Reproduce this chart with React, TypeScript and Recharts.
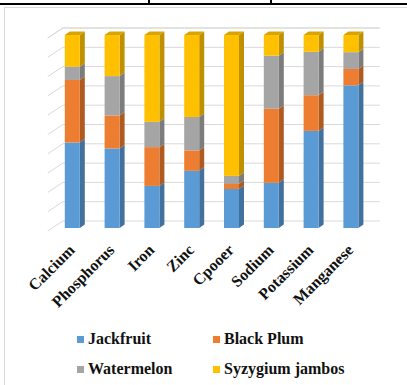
import React from "react";
import { BarChart, Bar, XAxis, YAxis, CartesianGrid } from "recharts";

const categories = ["Calcium", "Phosphorus", "Iron", "Zinc", "Cpooer", "Sodium", "Potassium", "Manganese"];
const jackfruit = [44.3, 41.2, 21.8, 29.6, 20.2, 23.4, 50.3, 73.9];
const blackPlum = [32.4, 17.1, 20.1, 10.6, 2.6, 38.4, 18.5, 8.5];
const watermelon = [6.9, 20.4, 13.1, 17.3, 4.2, 27.5, 22.5, 8.7];
const syzygium = [16.4, 21.3, 45.0, 42.5, 73.0, 10.7, 8.7, 8.9];
const yTicks = [0, 10, 20, 30, 40, 50, 60, 70, 80, 90, 100];

const seriesDefs = [
  { key: "Jackfruit", values: jackfruit, color: "#5B9BD5", side: "#41719C", top: "#4F88BB" },
  { key: "Black Plum", values: blackPlum, color: "#ED7D31", side: "#AE5A21", top: "#D06A28" },
  { key: "Watermelon", values: watermelon, color: "#A5A5A5", side: "#7C7C7C", top: "#929292" },
  { key: "Syzygium jambos", values: syzygium, color: "#FFC000", side: "#BF9000", top: "#D9A300" },
];

const data = categories.map((name, i) => {
  const row: Record<string, string | number> = { name };
  seriesDefs.forEach((s) => (row[s.key] = s.values[i]));
  return row;
});

const DX = 5;
const DY = 3.5;

const make3D = (color: string, side: string, top: string, isTop: boolean) => (props: any) => {
  const { x, y, width, height } = props;
  if (height == null || height <= 0) return <g />;
  return (
    <g>
      <polygon
        points={`${x + width},${y} ${x + width + DX},${y - DY} ${x + width + DX},${y + height - DY} ${x + width},${y + height}`}
        fill={side}
      />
      {isTop && (
        <polygon
          points={`${x},${y} ${x + DX},${y - DY} ${x + width + DX},${y - DY} ${x + width},${y}`}
          fill={top}
        />
      )}
      <rect x={x} y={y} width={width} height={height} fill={color} />
    </g>
  );
};

const gridLine = (p: any) => {
  const y = p.y1;
  const x0 = p.x1;
  return (
    <path
      key={`g-${y}`}
      d={`M${x0 - 5},${y + 3} L${x0 + 10},${y - 7} L${x0 + 327},${y - 7}`}
      stroke="#D9D9D9"
      strokeWidth={1}
      fill="none"
    />
  );
};

const FONT = "'Liberation Serif', 'Times New Roman', Times, serif";

const Tick = (props: any) => {
  const { x, y, payload } = props;
  return (
    <text
      transform={`translate(${x + 3},${y + 23}) rotate(-45)`}
      textAnchor="end"
      fontFamily={FONT}
      fontWeight="bold"
      fontSize={16}
      fill="#111111"
    >
      {payload.value}
    </text>
  );
};

const legendItems = [
  { ...seriesDefs[0], left: 77, top: 330 },
  { ...seriesDefs[1], left: 213, top: 330 },
  { ...seriesDefs[2], left: 77, top: 360 },
  { ...seriesDefs[3], left: 213, top: 360 },
];

export default function App() {
  return (
    <div
      style={{
        position: "absolute",
        left: 0,
        top: 0,
        width: 407,
        height: 385,
        overflow: "hidden",
        background: "#fff",
      }}
    >
      <div style={{ position: "absolute", left: 0, top: 3, width: 407, height: 2, background: "#000" }} />
      <div style={{ position: "absolute", left: 148, top: 0, width: 2, height: 4, background: "#000" }} />
      <div style={{ position: "absolute", left: 270, top: 0, width: 2, height: 4, background: "#000" }} />
      <div
        style={{
          position: "absolute",
          left: 4,
          top: 7,
          width: 600,
          height: 600,
          border: "1px solid #D9D9D9",
        }}
      />
      <div style={{ position: "absolute", left: 0, top: 0 }}>
        <BarChart
          width={407}
          height={385}
          data={data}
          margin={{ top: 35, left: 52.8, right: 35.8, bottom: 97 }}
          barCategoryGap={0}
        >
          <CartesianGrid vertical={false} horizontal={gridLine} />
          <YAxis hide domain={[0, 100]} ticks={yTicks} interval={0} />
          <XAxis
            dataKey="name"
            axisLine={false}
            tickLine={false}
            tickSize={0}
            tickMargin={0}
            height={60}
            interval={0}
            tick={<Tick />}
          />
          {seriesDefs.map((s, i) => (
            <Bar
              key={s.key}
              dataKey={s.key}
              stackId="a"
              barSize={15}
              fill={s.color}
              isAnimationActive={false}
              shape={make3D(s.color, s.side, s.top, i === seriesDefs.length - 1)}
            />
          ))}
        </BarChart>
      </div>
      {legendItems.map((l) => (
        <div
          key={l.key}
          style={{
            position: "absolute",
            left: l.left,
            top: l.top,
            display: "flex",
            alignItems: "center",
            fontFamily: FONT,
            fontWeight: "bold",
            fontSize: 16,
            color: "#111111",
            whiteSpace: "nowrap",
            lineHeight: "18px",
          }}
        >
          <span style={{ display: "inline-block", width: 7, height: 7, background: l.color, marginRight: 4 }} />
          <span>{l.key}</span>
        </div>
      ))}
    </div>
  );
}
